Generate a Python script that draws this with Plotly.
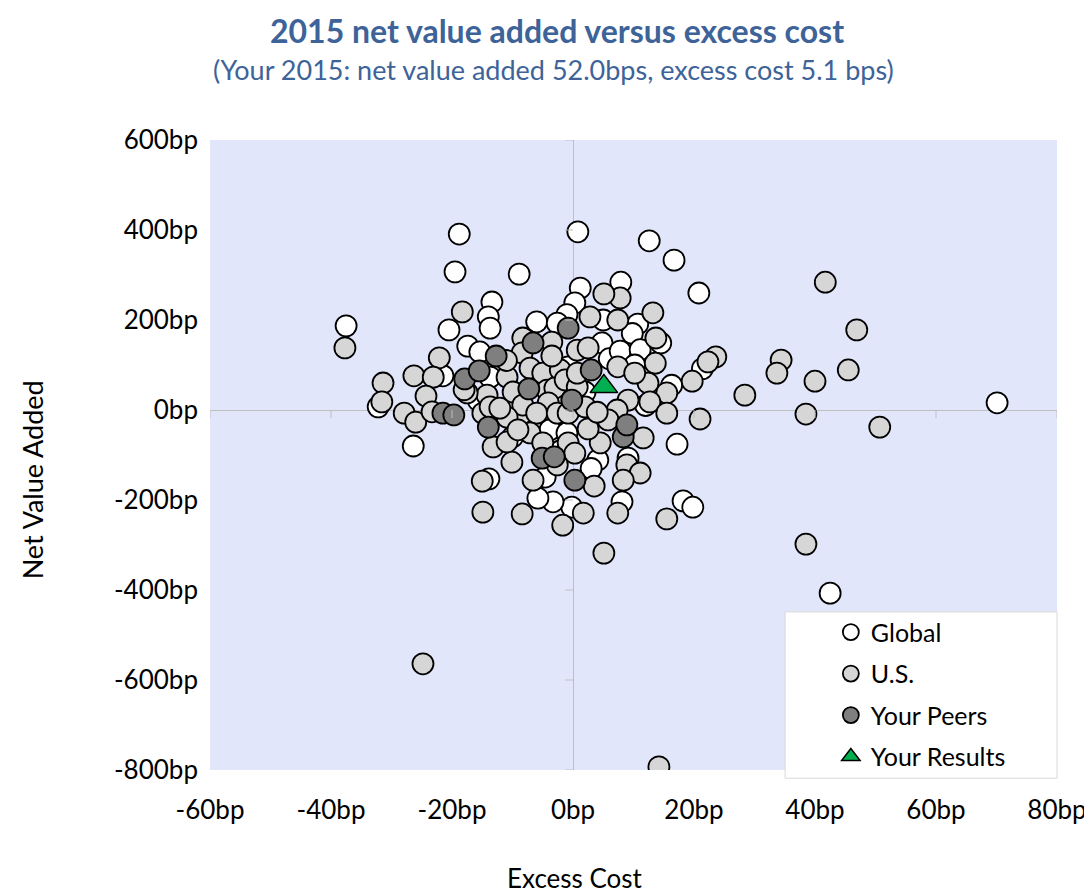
import plotly.graph_objects as go

# excess cost (bp), net value added (bp)
global_x = [-37.5, -18.8, -19.5, -8.9, 0.8, 12.6, 16.7, 20.8, 1.2, 7.9, -13.4, -14.0, -13.7,
            -20.5, -6.0, 0.3, -1.0, -17.4, -15.4, -21.7, -32.2, -13.7, -2.6, -15.7, -0.8,
            5.0, 10.7, 9.8, 14.5, 4.8, 6.0, 7.8, 11.1, 10.2, 16.3, 21.4, 70.1, 42.5, 17.2,
            18.2, 19.8, 8.1, 9.1, 4.1, -0.2, -3.3, -5.8, -4.6, -13.9, -26.4, -3.8, -1.0,
            -21.5, -5.0, 2.0, 6.0, -10.0, 12.0, -2.0, 3.0]
global_y = [187, 391, 307, 302, 396, 376, 333, 260, 271, 284, 240, 207, 182,
            178, 196, 238, 212, 142, 129, 78, 7, 73, 193, 22, 96,
            200, 191, 170, 149, 149, 114, 131, 134, 100, 55, 92, 16, -407, -76,
            -202, -216, -204, -107, -111, -216, -204, -196, -149, -153, -80, -44, -51,
            76, 60, 40, -20, -60, 10, -90, -130]

us_x = [-37.7, -18.3, -22.1, -31.4, -31.6, -26.3, -23.1, -24.3, -27.9, -26.0, -23.3, -8.3,
        -8.4, -3.5, -10.9, -14.2, -17.5, -9.9, -7.1, -5.0, -2.1, -4.3, -2.1, -8.3, -14.9,
        0.7, -3.0, -4.1, -8.3, -13.7, -10.9, -1.3, 0.7, -12.1, -6.0, -2.6, -0.8, -7.1,
        -5.0, -2.6, -0.8, 0.3, -10.1, -13.2, -10.9, -9.1, -6.6, -15.0, -14.9, -8.4, -1.7,
        1.7, 7.4, 15.5, 5.1, -24.8, 14.2, 38.5, 50.7, 38.5, 28.4, 21.0, 34.4, 33.7, 40.0,
        45.5, 46.9, 41.7, 23.6, 19.7, 15.5, 13.2, 13.7, 7.8, 5.1, 2.8, 7.4, 2.5, 13.6,
        7.4, 12.4, 9.1, 12.7, 15.5, 22.3, 10.2, 0.7, 2.0, 7.3, 4.5, 2.5, 5.8, 11.6, 8.9,
        11.1, 8.3, 3.5, -18.0, -11.0, 4.0, -3.5]
us_y = [138, 218, 116, 60, 18, 76, 73, 31, -7, -27, -4, 160,
        127, 151, 73, 33, 38, 40, 93, 82, 89, 44, 18, -7, -7,
        133, 49, 16, 11, 7, -16, 67, 51, 4, -7, -7, -7, -51,
        -73, -122, -73, -96, -116, -82, -71, -44, -156, -158, -227, -231, -256,
        -229, -229, -242, -318, -564, -793, -298, -38, -9, 33, -20, 111, 82, 64,
        89, 178, 284, 118, 64, 38, 216, 160, 249, 258, 207, 200, 138, 104,
        96, 60, 22, 18, -7, 107, 82, 82, 7, 0, -73, -42, -22, -62, -122,
        -140, -156, -169, 45, 110, -5, 120]

peers_x = [-21.5, -19.7, -17.9, -15.5, -12.7, -6.6, -0.8, 3.0, -7.3, -0.2, -14.0, -5.1,
           -3.1, 0.3, 8.3, 8.9]
peers_y = [-7, -11, 69, 87, 120, 149, 182, 89, 47, 22, -38, -107,
           -104, -156, -60, -33]

result_x = [5.1]
result_y = [52.0]

x_ticks = [-60, -40, -20, 0, 20, 40, 60, 80]
y_ticks = [-800, -600, -400, -200, 0, 200, 400, 600]

FONT = "Lato"
BLUE = "#3D6399"

fig = go.Figure()

def circles(x, y, name, color):
    fig.add_trace(go.Scatter(
        x=x, y=y, mode="markers", name=name, legendgroup=name,
        marker=dict(symbol="circle", size=21, color=color,
                    line=dict(color="black", width=1.8)),
    ))

circles(global_x, global_y, "Global", "white")
circles(us_x, us_y, "U.S.", "#D6D6D6")
circles(peers_x, peers_y, "Your Peers", "#7F7F7F")
fig.add_trace(go.Scatter(
    x=result_x, y=result_y, mode="markers", name="Your Results", legendgroup="Your Results",
    marker=dict(symbol="triangle-up", size=24, color="#00B050",
                line=dict(color="black", width=1.5)),
))

# small tick marks along the crossing axes (Excel style)
shapes = []
for t in x_ticks:
    shapes.append(dict(type="line", xref="x", yref="y", x0=t, x1=t, y0=0, y1=-18,
                       line=dict(color="#BFBFBF", width=1)))
for t in y_ticks:
    shapes.append(dict(type="line", xref="x", yref="y", x0=-1.3, x1=0, y0=t, y1=t,
                       line=dict(color="#BFBFBF", width=1)))
# legend box
shapes.append(dict(type="rect", xref="paper", yref="paper", x0=0.679, x1=1.0,
                   y0=-0.013, y1=0.251, fillcolor="white",
                   line=dict(color="#D9D9D9", width=1), layer="above"))

fig.update_layout(
    width=1092, height=894,
    margin=dict(l=202, r=43, t=132, b=132),
    plot_bgcolor="#E1E6FA", paper_bgcolor="white",
    font=dict(family=FONT, size=26, color="black"),
    shapes=shapes,
    showlegend=True,
    legend=dict(x=0.733, y=0.255, xanchor="left", yanchor="top",
                bgcolor="rgba(0,0,0,0)", borderwidth=0,
                font=dict(family=FONT, size=25, color="black"),
                tracegroupgap=6, itemwidth=30),
    annotations=[
        dict(text="<b>2015 net value added versus excess cost</b>", xref="paper", yref="paper",
             x=0.41, y=1.0, yshift=110, yanchor="middle", showarrow=False,
             font=dict(family=FONT, size=32, color=BLUE)),
        dict(text="(Your 2015: net value added 52.0bps, excess cost 5.1 bps)", xref="paper",
             yref="paper", x=0.405, y=1.0, yshift=71, yanchor="middle", showarrow=False,
             font=dict(family=FONT, size=27, color=BLUE)),
        dict(text="Excess Cost", xref="paper", yref="paper", x=0.431, y=-0.171,
             xanchor="center", yanchor="middle",
             showarrow=False, font=dict(family=FONT, size=26)),
        dict(text="Net Value Added", xref="paper", yref="paper", x=-0.210, y=0.46,
             xanchor="center", yanchor="middle",
             textangle=-90, showarrow=False, font=dict(family=FONT, size=27)),
    ],
)

fig.update_xaxes(range=[-60, 80], tickmode="array", tickvals=x_ticks,
                 ticktext=[f"{t}bp" for t in x_ticks],
                 showgrid=False, zeroline=True, zerolinecolor="#BFBFBF", zerolinewidth=1,
                 showline=False, ticks="", ticklabelstandoff=22)
fig.update_yaxes(range=[-800, 600], tickmode="array", tickvals=y_ticks,
                 ticktext=[f"{t}bp" for t in y_ticks],
                 showgrid=False, zeroline=True, zerolinecolor="#BFBFBF", zerolinewidth=1,
                 showline=False, ticks="", ticklabelstandoff=11)

fig.write_html("out.html")
